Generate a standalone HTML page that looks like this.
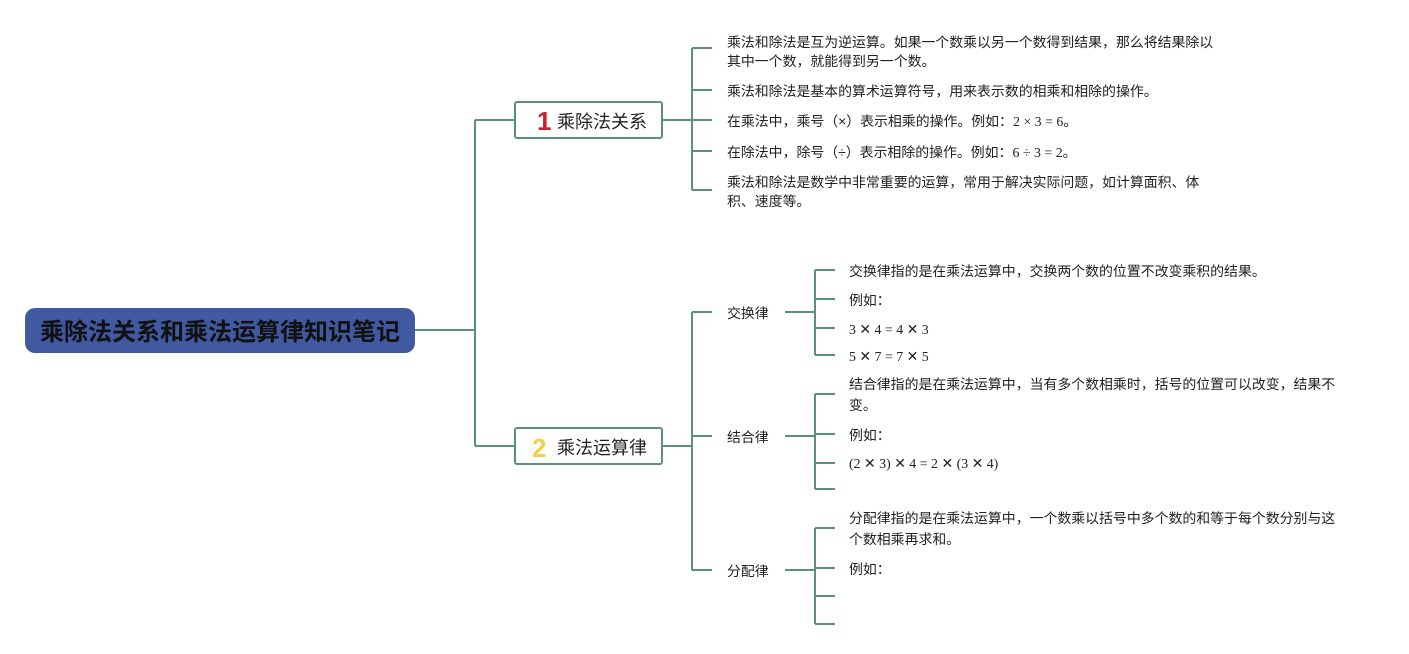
<!DOCTYPE html>
<html><head><meta charset="utf-8"><style>
body{margin:0;background:#fff;}
svg text{font-family:"Liberation Sans","Noto Sans CJK SC",sans-serif;fill:#222;}
.s{font-family:"Liberation Serif","Noto Sans CJK SC",serif;}
</style></head><body>
<svg width="1409" height="649" viewBox="0 0 1409 649" xmlns="http://www.w3.org/2000/svg">
<g stroke="#5b8f7e" stroke-width="2" fill="none">
<path d="M415 330H475M475 120V446M475 120H515M475 446H515"/>
<path d="M662 120H692M692 48V190M692 48H712M692 90H712M692 120H712M692 151H712M692 190H712"/>
<path d="M662 446H692M692 312V570M692 312H712M692 436H712M692 570H712"/>
<path d="M785 312H815M815 270V355M815 270H835M815 299H835M815 328H835M815 355H835"/>
<path d="M785 436H815M815 394V489M815 394H835M815 434H835M815 463H835M815 489H835"/>
<path d="M785 570H815M815 528V624M815 528H835M815 568H835M815 596H835M815 624H835"/>
<rect x="515" y="102" width="147" height="36" rx="2" fill="#fff"/>
<rect x="515" y="428" width="147" height="36" rx="2" fill="#fff"/>
</g>
<rect x="25" y="308" width="390" height="45" rx="10" fill="#4059a0"/>
<text x="220" y="340" text-anchor="middle" font-size="24" font-weight="bold" style="fill:#111">乘除法关系和乘法运算律知识笔记</text>
<text x="537" y="130" font-size="26" font-weight="bold" style="fill:#d0202f">1</text>
<text x="557" y="128" font-size="18">乘除法关系</text>
<text x="532" y="457" font-size="26" font-weight="bold" style="fill:#f2d14a">2</text>
<text x="557" y="454" font-size="18">乘法运算律</text>
<g font-size="13.9">
<text x="727" y="47">乘法和除法是互为逆运算。如果一个数乘以另一个数得到结果，那么将结果除以</text>
<text x="727" y="66">其中一个数，就能得到另一个数。</text>
<text x="727" y="96">乘法和除法是基本的算术运算符号，用来表示数的相乘和相除的操作。</text>
<text x="727" y="126">在乘法中，乘号（×）表示相乘的操作。例如：<tspan class="s">2 × 3 = 6</tspan>。</text>
<text x="727" y="157">在除法中，除号（÷）表示相除的操作。例如：<tspan class="s">6 ÷ 3 = 2</tspan>。</text>
<text x="727" y="187">乘法和除法是数学中非常重要的运算，常用于解决实际问题，如计算面积、体</text>
<text x="727" y="206">积、速度等。</text>
<text x="727" y="318">交换律</text>
<text x="727" y="442">结合律</text>
<text x="727" y="576">分配律</text>
<text x="849" y="276">交换律指的是在乘法运算中，交换两个数的位置不改变乘积的结果。</text>
<text x="849" y="305">例如：</text>
<text x="849" y="334" class="s">3 ✕ 4 = 4 ✕ 3</text>
<text x="849" y="361" class="s">5 ✕ 7 = 7 ✕ 5</text>
<text x="849" y="389">结合律指的是在乘法运算中，当有多个数相乘时，括号的位置可以改变，结果不</text>
<text x="849" y="410">变。</text>
<text x="849" y="440">例如：</text>
<text x="849" y="468" class="s">(2 ✕ 3) ✕ 4 = 2 ✕ (3 ✕ 4)</text>
<text x="849" y="523">分配律指的是在乘法运算中，一个数乘以括号中多个数的和等于每个数分别与这</text>
<text x="849" y="544">个数相乘再求和。</text>
<text x="849" y="574">例如：</text>
</g>
</svg>
</body></html>
